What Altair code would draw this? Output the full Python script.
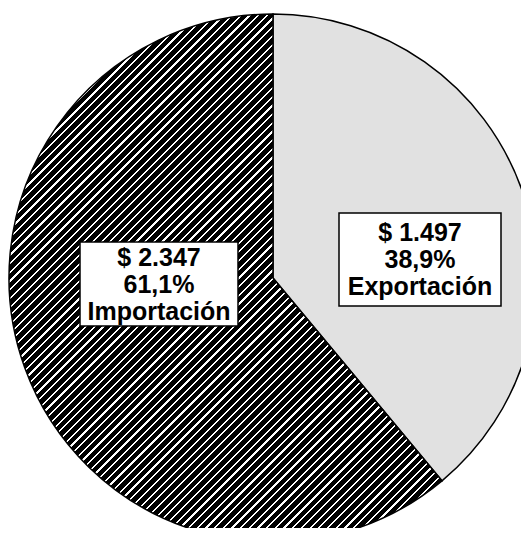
import math
import altair as alt
import pandas as pd

categories = ["Exportación", "Importación"]
values = [1497, 2347]
order = [1, 2]

total = sum(values)
def fmt_money(v):
    return "$ " + f"{v:,}".replace(",", ".")
def fmt_pct(v):
    return f"{v / total * 100:.1f}".replace(".", ",") + "%"

labels = [f"{fmt_money(v)}\n{fmt_pct(v)}\n{c}" for c, v in zip(categories, values)]
df = pd.DataFrame({"cat": categories, "value": values, "ord": order, "label": labels})

# pie geometry
R = 264
CX, CY = 265, 270

# hatch pattern via a linear gradient with hard stops (bbox-relative)
exp_angle = values[0] / total * 2 * math.pi
W = R + R * math.sin(exp_angle)
H = 2 * R
D = W + H * H / W
period = 8.7
N = int(round(D / period))
stops = []
for i in range(N):
    s = i / N
    m = (i + 0.74) / N
    e = (i + 1) / N
    stops += [
        {"offset": round(s, 5), "color": "#000000"},
        {"offset": round(m, 5), "color": "#000000"},
        {"offset": round(m, 5), "color": "#ffffff"},
        {"offset": round(e, 5), "color": "#ffffff"},
    ]
hatch = {"gradient": "linear", "x1": 0, "y1": 0, "x2": 1, "y2": round(H / W, 4), "stops": stops}

base = alt.Chart(df)

pie = base.mark_arc(outerRadius=R, stroke="#000000", strokeWidth=1.5, x=CX, y=CY).encode(
    theta=alt.Theta("value:Q", stack=True),
    order=alt.Order("ord:Q"),
    fill=alt.condition(alt.datum.cat == "Importación", alt.value(hatch), alt.value("#e1e1e1")),
)

box_imp = base.transform_filter(alt.datum.cat == "Importación").mark_rect(
    x=72, x2=230, y=234, y2=318, fill="white", stroke="#000000", strokeWidth=1.5
).encode(opacity=alt.value(1))
box_exp = base.transform_filter(alt.datum.cat == "Exportación").mark_rect(
    x=331, x2=493, y=205, y2=298, fill="white", stroke="#000000", strokeWidth=1.5
).encode(opacity=alt.value(1))

txt_style = dict(font="Liberation Sans", fontSize=25, fontWeight="bold", color="#000000",
                 align="center", baseline="middle", lineBreak="\n", lineHeight=27)
txt_imp = base.transform_filter(alt.datum.cat == "Importación").mark_text(
    x=151, y=250, **txt_style).encode(text="label:N")
txt_exp = base.transform_filter(alt.datum.cat == "Exportación").mark_text(
    x=412, y=225, **txt_style).encode(text="label:N")

chart = alt.layer(pie, box_imp, box_exp, txt_imp, txt_exp).properties(
    width=513, height=520, padding=0, autosize=alt.AutoSizeParams(type="none"),
    background="white",
).configure_view(stroke=None)

chart.save("out.html", embed_options={"renderer": "svg", "actions": False})
